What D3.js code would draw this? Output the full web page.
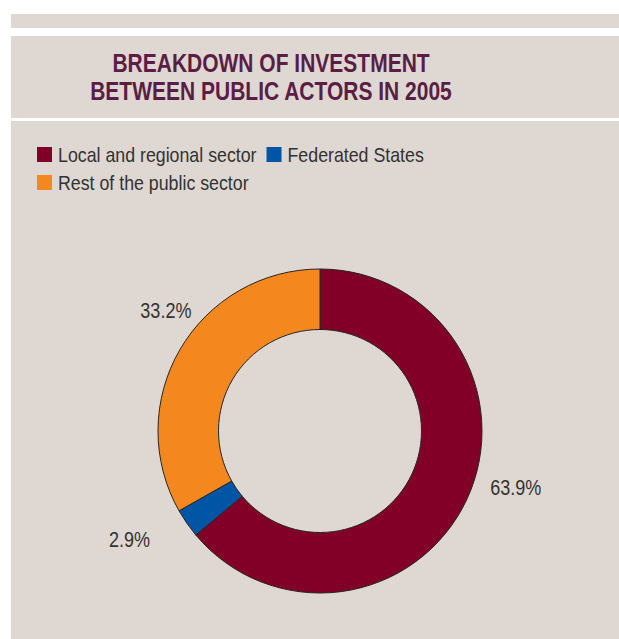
<!DOCTYPE html>
<html>
<head>
<meta charset="utf-8">
<script src="https://cdn.jsdelivr.net/npm/d3@7"></script>
<style>
  html, body { margin: 0; padding: 0; background: #ffffff; }
  svg { display: block; }
  text { font-family: "Liberation Sans", Arial, sans-serif; }
</style>
</head>
<body>
<div id="chart"></div>
<script>
// Investment split between public actors, 2005 (percent)
const categories = ["Local and regional sector", "Federated States", "Rest of the public sector"];
const shares = [63.9, 2.9, 33.2];
const sliceColors = ["#820028", "#0056a4", "#f5871f"];
const titleLines = ["BREAKDOWN OF INVESTMENT", "BETWEEN PUBLIC ACTORS IN 2005"];

// Legend rows: indices of categories per row
const legendRows = [[0, 1], [2]];

// Per-label nudges (px) applied after placing labels on the slice mid-angle
const labelNudge = [[10, -30], [-22, -9], [23, -18]];

const W = 619, H = 639;
const bg = "#dfd7d1";
const textColor = "#333333";
const titleColor = "#5a1e46";

// Horizontal squeeze giving a condensed look to the sans-serif text
const squeeze = { title: 0.84, legend: 0.88, label: 0.84 };

const svg = d3.select("#chart").append("svg")
  .attr("width", W).attr("height", H);

// Condensed text: a group scaled horizontally around its anchor point
function condensedText(parent, x, y, sx) {
  return parent.append("g")
    .attr("transform", `translate(${x},${y}) scale(${sx},1)`)
    .append("text");
}

// Panel background with white separator bands
svg.append("rect").attr("x", 11).attr("y", 14).attr("width", W - 11).attr("height", H - 14).attr("fill", bg);
svg.append("rect").attr("x", 11).attr("y", 28).attr("width", W - 11).attr("height", 8).attr("fill", "#ffffff");
svg.append("rect").attr("x", 11).attr("y", 118).attr("width", W - 11).attr("height", 3).attr("fill", "#ffffff");

// Title
titleLines.forEach((line, i) => {
  condensedText(svg, 271, 71.5 + i * 28.5, squeeze.title)
    .attr("text-anchor", "middle")
    .attr("fill", titleColor)
    .attr("font-weight", "bold")
    .attr("font-size", 25)
    .text(line);
});

// Legend
const color = d3.scaleOrdinal().domain(categories).range(sliceColors);
const legend = svg.append("g");
legendRows.forEach((row, r) => {
  let x = 37;
  const baseY = 162 + r * 28;
  row.forEach(ci => {
    legend.append("rect")
      .attr("x", x).attr("y", baseY - 15)
      .attr("width", 15).attr("height", 15)
      .attr("fill", color(categories[ci]));
    const t = condensedText(legend, x + 21, baseY, squeeze.legend)
      .attr("fill", textColor)
      .attr("font-size", 20.2)
      .text(categories[ci]);
    x = x + 21 + t.node().getComputedTextLength() * squeeze.legend + 10;
  });
});

// Donut
const cx = 320, cy = 431, outerR = 162, innerR = 101.5;
const data = categories.map((c, i) => ({ name: c, value: shares[i] }));
const pie = d3.pie().sort(null).value(d => d.value).startAngle(0).endAngle(2 * Math.PI);
const arcs = pie(data);
const arc = d3.arc().innerRadius(innerR).outerRadius(outerR);

const g = svg.append("g").attr("transform", `translate(${cx},${cy})`);
g.selectAll("path.slice")
  .data(arcs)
  .join("path")
  .attr("class", "slice")
  .attr("d", arc)
  .attr("fill", d => color(d.data.name))
  .attr("stroke", "#262626")
  .attr("stroke-width", 1);

// Value labels outside the ring
const labelArc = d3.arc().innerRadius(205).outerRadius(205);
arcs.forEach((d, i) => {
  const [x, y] = labelArc.centroid(d);
  condensedText(g, x + labelNudge[i][0], y + labelNudge[i][1], squeeze.label)
    .attr("text-anchor", "middle")
    .attr("dy", "0.36em")
    .attr("fill", textColor)
    .attr("font-size", 21.5)
    .text(d3.format(".1f")(d.data.value) + "%");
});
</script>
</body>
</html>
